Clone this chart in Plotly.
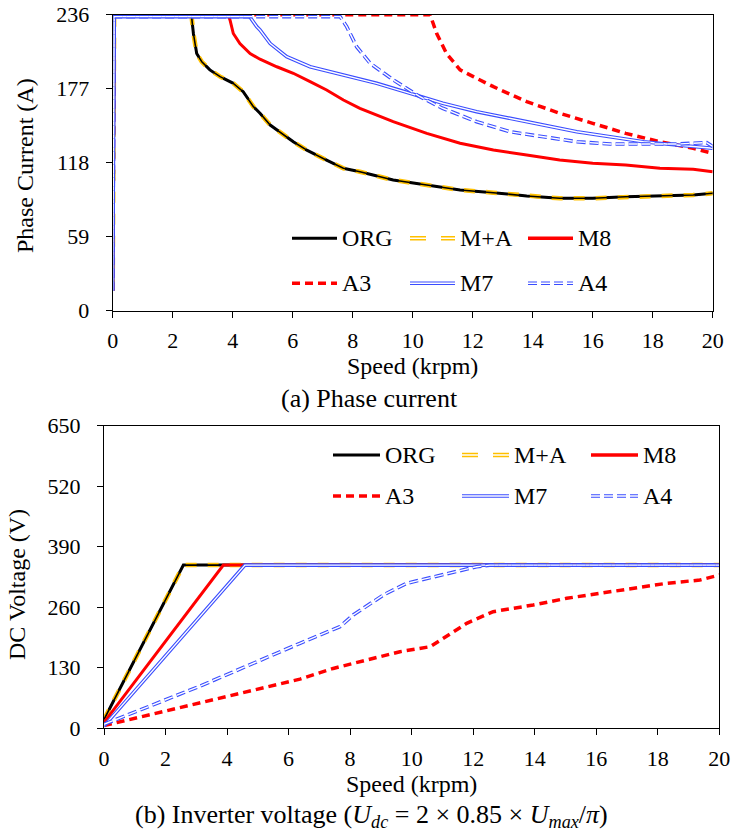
import plotly.graph_objects as go

# ---------------- data: (a) phase current ----------------
spd_org_a = [0, 0.05, 2.6, 2.63, 2.69, 2.8, 2.97, 3.24, 3.58, 4.02, 4.35, 4.69, 4.91, 5.25, 6.02,
             6.47, 7.13, 7.69, 8.24, 9.35, 10.47, 11.58, 12.69, 13.8, 14.9, 16.0, 17.1, 18.24, 19.35, 20]
cur_org = [16, 236, 236, 234.4, 221, 205, 198.5, 192, 186.6, 181.3, 174.6, 162.7, 157.4, 148, 134.7,
           128, 120, 113.5, 110.8, 104.2, 100.2, 96.2, 94.1, 91.5, 89.6, 89.6, 90.9, 91.5, 92.3, 93.6]

spd_m8_a = [0, 0.05, 3.85, 3.91, 4.02, 4.24, 4.58, 4.91, 5.47, 6.02, 6.58, 7.13, 7.69, 8.24, 9.35,
            10.47, 11.58, 12.69, 13.8, 14.9, 16.0, 17.1, 18.24, 19.35, 20]
cur_m8 = [16, 236, 236, 231.8, 221, 213, 205, 200.5, 194.5, 189.3, 182.6, 176, 168, 161.4, 150.7,
          141.4, 133.5, 128.1, 124.1, 120.2, 117.5, 116.2, 113.5, 112.7, 110.8]

spd_a3_a = [0, 0.05, 10.58, 10.8, 11.13, 11.58, 12.02, 12.69, 13.8, 14.9, 16.0, 17.1, 18.24, 19.35, 20]
cur_a3 = [16, 236, 236, 221, 205, 192, 186.6, 178.6, 166.7, 157.4, 149.4, 141.4, 134.7, 129.5, 125.5]

spd_m7_a = [0, 0.05, 4.5, 4.58, 4.8, 4.91, 5.25, 5.8, 6.58, 7.69, 8.8, 9.91, 11.0, 12.13, 13.24,
            14.35, 15.47, 16.58, 17.69, 18.8, 20]
cur_m7 = [16, 234.5, 234.5, 234, 226.5, 223.8, 213, 202.5, 194.5, 188, 181.3, 173.3, 165.4, 158.7,
          153.4, 148, 142.7, 138.7, 134.7, 132.1, 129.5]

spd_a4_a = [0, 0.05, 7.58, 7.8, 8.13, 8.58, 9.35, 10.24, 11.0, 12.13, 13.24, 14.35, 15.47, 16.58,
            17.69, 18.8, 19.8, 20]
cur_a4 = [16, 234.5, 234.5, 226.5, 210.5, 197.3, 184, 170.6, 161.4, 150.7, 142.7, 138.7, 134.7,
          132.9, 132.9, 132.9, 134, 131]

# ---------------- data: (b) DC voltage ----------------
spd_org_b = [0, 2.58, 20]
vdc_org = [18, 350, 350]
spd_m8_b = [0, 3.88, 20]
vdc_m8 = [12, 350, 350]
spd_m7_b = [0, 4.58, 20]
vdc_m7 = [4, 350, 350]
spd_a4_b = [0, 3.12, 6.37, 7.67, 8.1, 9.08, 9.84, 10.7, 11.46, 12.11, 12.54, 20]
vdc_a4 = [8, 90, 182, 217.7, 242.8, 285.8, 310.9, 325, 335.9, 346.6, 350, 350]
spd_a3_b = [0, 6.37, 7.45, 8.53, 9.62, 10.6, 11.03, 11.79, 12.65, 13.95, 15.04, 16.12, 17.2, 18.29, 19.37, 20]
vdc_a3 = [5, 105, 128, 146, 164, 174.7, 192.7, 225, 250, 264.3, 278.7, 289.4, 300, 310.9, 318, 328.7]

x_ticks = list(range(0, 21, 2))
cur_ticks = [0, 59, 118, 177, 236]
vdc_ticks = [0, 130, 260, 390, 520, 650]
series_names = ["ORG", "M+A", "M8", "A3", "M7", "A4"]

FONT = "Times New Roman, Liberation Serif, DejaVu Serif, serif"
W, H = 734, 837
BLACK = "#000000"
YEL = "#FFC000"
RED = "#FF0000"
BLUE = "#3A4DFF"

fig = go.Figure()


def add_set(xa, ya, org, m8, a3, m7, a4):
    def tr(x, y, color, width, dash="solid"):
        fig.add_trace(go.Scatter(x=x, y=y, mode="lines", xaxis=xa, yaxis=ya, showlegend=False,
                                 hoverinfo="skip",
                                 line=dict(color=color, width=width, dash=dash)))
    # ORG
    tr(org[0], org[1], BLACK, 3)
    # M+A (hollow yellow dashes over ORG)
    tr(org[0], org[1], YEL, 4.5, "11px,11px")
    tr(org[0], org[1], BLACK, 1.6)
    # M8
    tr(m8[0], m8[1], RED, 3)
    # A3
    tr(a3[0], a3[1], RED, 3.5, "8px,5px")
    # M7 (double blue)
    tr(m7[0], m7[1], BLUE, 3.6)
    tr(m7[0], m7[1], "#FFFFFF", 1.4)
    # A4 (hollow blue dashes)
    tr(a4[0], a4[1], BLUE, 3.6, "9px,4px")
    tr(a4[0], a4[1], "#FFFFFF", 1.4, "9px,4px")


add_set("x", "y", (spd_org_a, cur_org), (spd_m8_a, cur_m8), (spd_a3_a, cur_a3),
        (spd_m7_a, cur_m7), (spd_a4_a, cur_a4))
add_set("x2", "y2", (spd_org_b, vdc_org), (spd_m8_b, vdc_m8), (spd_a3_b, vdc_a3),
        (spd_m7_b, vdc_m7), (spd_a4_b, vdc_a4))


def px(xp):
    return xp / W


def py(yp):
    return 1 - yp / H


axis_common = dict(showgrid=False, zeroline=False, showline=True, linecolor=BLACK, linewidth=1.3,
                   mirror=True, ticks="outside", ticklen=6, tickcolor=BLACK, tickwidth=1.2,
                   tickfont=dict(family=FONT, size=22, color=BLACK), automargin=False)

fig.update_layout(
    width=W, height=H, margin=dict(l=0, r=0, t=0, b=0),
    paper_bgcolor="white", plot_bgcolor="white", showlegend=False,
    font=dict(family=FONT, color=BLACK),
    xaxis=dict(domain=[px(112.7), px(712.7)], range=[0, 20], tickvals=x_ticks, anchor="y",
               ticklabelstandoff=4, **axis_common),
    yaxis=dict(domain=[py(310.7), py(14.7)], range=[0, 236], tickvals=cur_ticks, anchor="x",
               ticklabelstandoff=12, **axis_common),
    xaxis2=dict(domain=[px(104), px(719.3)], range=[0, 20], tickvals=x_ticks, anchor="y2",
                ticklabelstandoff=4, **axis_common),
    yaxis2=dict(domain=[py(728), py(425.5)], range=[0, 650], tickvals=vdc_ticks, anchor="x2",
                ticklabelstandoff=12, **axis_common),
)

ann = []


def text(x, y, s, size, angle=0, xanchor="center"):
    ann.append(dict(x=px(x), y=py(y), xref="paper", yref="paper", text=s, showarrow=False,
                    textangle=angle, xanchor=xanchor, yanchor="middle",
                    font=dict(family=FONT, size=size, color=BLACK)))


text(25, 166, "Phase Current (A)", 24, -90)
text(17, 585, "DC Voltage (V)", 24, -90)
text(412.7, 366, "Speed (krpm)", 24)
text(411.6, 784, "Speed (krpm)", 24)
text(369, 399, "(a) Phase current", 26)
text(371, 816, "(b) Inverter voltage (<i>U</i><sub><i>dc</i></sub> = 2 × 0.85 × <i>U</i><sub><i>max</i></sub>/<i>π</i>)", 26)

# ---------------- manual legends ----------------
shapes = []
styles = {
    "ORG": [(BLACK, 3, "solid")],
    "M+A": [(YEL, 4.5, "16px,15px"), ("#FFFFFF", 1.6, "16px,15px")],
    "M8": [(RED, 3.5, "solid")],
    "A3": [(RED, 3.5, "8px,5px")],
    "M7": [(BLUE, 3.6, "solid"), ("#FFFFFF", 1.4, "solid")],
    "A4": [(BLUE, 3.6, "9px,4px"), ("#FFFFFF", 1.4, "9px,4px")],
}


def legend(x_cols, y_rows, line_len):
    for i, name in enumerate(series_names):
        xc = x_cols[i % 3]
        yr = y_rows[i // 3]
        for color, wdt, dash in styles[name]:
            shapes.append(dict(type="line", xref="paper", yref="paper",
                               x0=px(xc), x1=px(xc + line_len), y0=py(yr), y1=py(yr),
                               line=dict(color=color, width=wdt, dash=dash)))
        text(xc + line_len + 3, yr, name, 24, xanchor="left")


legend([292, 410, 528], [238.3, 283.3], 45)
legend([333, 462, 591], [455, 496], 47)

fig.update_layout(annotations=ann, shapes=shapes)
fig.write_html("out.html")
